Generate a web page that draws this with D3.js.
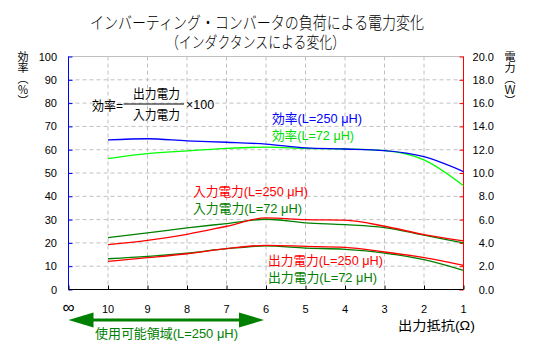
<!DOCTYPE html>
<html><head><meta charset="utf-8">
<script src="https://cdn.jsdelivr.net/npm/d3@7"></script>
<style>body{margin:0;background:#fff;} svg{display:block;} text{font-family:"Liberation Sans","Noto Sans CJK JP",sans-serif;}</style>
</head><body>
<svg id="c" width="537" height="346"></svg>
<script>
const xLabels = ["∞","10","9","8","7","6","5","4","3","2","1"];
const effTicks = [0,10,20,30,40,50,60,70,80,90,100];
const powTicks = ["0.0","2.0","4.0","6.0","8.0","10.0","12.0","14.0","16.0","18.0","20.0"];
// values at x index 1..10 (10Ω .. 1Ω)
const eff250 = [64.2,64.7,63.8,63.2,62.4,60.8,60.3,59.6,57.0,50.6];
const eff72  = [56.2,58.3,59.5,60.6,61.1,60.6,60.3,59.6,55.6,44.5];
const pin250 = [3.85,4.22,4.74,5.43,6.15,6.00,5.95,5.43,4.71,4.17];
const pin72  = [4.45,4.86,5.29,5.66,6.03,5.72,5.57,5.32,4.66,4.00];
const pout250= [2.41,2.73,3.07,3.50,3.79,3.71,3.62,3.22,2.73,2.07];
const pout72 = [2.64,2.84,3.13,3.50,3.74,3.56,3.45,3.13,2.56,1.64];

const svg = d3.select("#c");
const L=68.5, R=463.5, T=56.5, B=289.5;
const x = d3.scaleLinear().domain([0,10]).range([L,R]);
const yE = d3.scaleLinear().domain([0,100]).range([B,T]);
const yP = d3.scaleLinear().domain([0,20]).range([B,T]);

// grid
const g = svg.append("g");
effTicks.slice(1,-1).forEach(v=>{
  g.append("line").attr("x1",L).attr("x2",R).attr("y1",yE(v)).attr("y2",yE(v))
   .attr("stroke","#c0c0c0").attr("stroke-dasharray","4,3");
});
g.append("line").attr("x1",L).attr("x2",R).attr("y1",T).attr("y2",T).attr("stroke","#c0c0c0");
d3.range(1,10).forEach(i=>{
  g.append("line").attr("x1",x(i)).attr("x2",x(i)).attr("y1",T).attr("y2",B-4)
   .attr("stroke","#c0c0c0").attr("stroke-dasharray","4,3");
});

// axes
const axL = svg.append("g").attr("transform",`translate(${L},0)`)
  .call(d3.axisRight(yE).tickValues(effTicks).tickSize(4).tickFormat(""));
axL.select(".domain").attr("stroke","#0000ff").attr("d",`M0,${T}V${B}`);
axL.selectAll(".tick line").attr("stroke","#0000ff");
const axR = svg.append("g").attr("transform",`translate(${R},0)`)
  .call(d3.axisLeft(yP).tickValues(d3.range(0,21,2)).tickSize(4).tickFormat(""));
axR.select(".domain").attr("stroke","#ff0000").attr("d",`M0,${T}V${B}`);
axR.selectAll(".tick line").attr("stroke","#ff0000");
const axB = svg.append("g").attr("transform",`translate(0,${B})`)
  .call(d3.axisTop(x).tickValues(d3.range(0,11)).tickSize(4).tickFormat(""));
axB.select(".domain").attr("stroke","#000").attr("d",`M${L},0H${R}`);
axB.selectAll(".tick line").attr("stroke","#000");

// tick labels
effTicks.forEach(v=>{
  svg.append("text").attr("x",57).attr("y",yE(v)+4).attr("text-anchor","end")
    .attr("font-size",11).text(v);
});
powTicks.forEach((t,i)=>{
  svg.append("text").attr("x",494).attr("y",yP(i*2)+4).attr("text-anchor","end")
    .attr("font-size",11).text(t);
});
xLabels.forEach((t,i)=>{
  svg.append("text").attr("x",x(i)).attr("y",313).attr("text-anchor","middle")
    .attr("font-size",i===0?17:11).attr("font-weight",i===0?300:null).text(t);
});

// lines
const line = (yS)=>d3.line().x((d,i)=>x(i+1)).y(d=>yS(d)).curve(d3.curveMonotoneX);
const series = [
  [pout72,yP,"#008000"],[pout250,yP,"#ff0000"],
  [pin72,yP,"#008000"],[pin250,yP,"#ff0000"],
  [eff72,yE,"#00ff00"],[eff250,yE,"#0000ff"]
];
series.forEach(([d,s,c])=>{
  svg.append("path").datum(d).attr("d",line(s)).attr("fill","none")
    .attr("stroke",c).attr("stroke-width",1.3);
});

// annotations
function txt(t,x0,y0,c,fs,w,anchor){
  const e = svg.append("text").attr("x",x0).attr("y",y0).attr("fill",c).attr("font-size",fs).text(t);
  if(w) e.attr("textLength",w).attr("lengthAdjust","spacingAndGlyphs");
  if(anchor) e.attr("text-anchor",anchor);
  return e;
}
txt("インバーティング・コンバータの負荷による電力変化",90,29,"#000",17,334).attr("font-weight",300);
txt("（インダクタンスによる変化）",166,47.5,"#000",16,179).attr("font-weight",300);

txt("効率(L=250 μH)",272,122.5,"#0000ff",13,90);
txt("効率(L=72 μH)",272,140,"#00dd00",13,82);
txt("入力電力(L=250 μH)",193,196,"#ff0000",13,115);
txt("入力電力(L=72 μH)",193,213,"#008000",13,109);
txt("出力電力(L=250 μH)",268,264.5,"#ff0000",13,115);
txt("出力電力(L=72 μH)",268,281.5,"#008000",13,109);

// formula
txt("効率=",92,109.5,"#000",13,31);
txt("出力電力",133,98,"#000",13,47);
txt("入力電力",133,119,"#000",13,47);
svg.append("line").attr("x1",123.5).attr("x2",184).attr("y1",104).attr("y2",104).attr("stroke","#000");
txt("×100",186,109,"#000",12.5);

// vertical axis titles
function vTitle(cx, t){
  svg.append("text").attr("x",cx).attr("y",51)
    .style("writing-mode","vertical-rl").style("text-orientation","upright")
    .style("font-family","'Noto Sans CJK JP'")
    .attr("font-size",11).text(t);
}
vTitle(23,"効率（％）");
vTitle(510,"電力（Ｗ）");
txt("出力抵抗(Ω)",398,330,"#000",13,77);

// arrow
const ax0 = x(0), ax1 = x(5)-2, ay = 320;
svg.append("line").attr("x1",ax0+20).attr("x2",ax1-20).attr("y1",ay).attr("y2",ay)
  .attr("stroke","#008000").attr("stroke-width",3);
svg.append("path").attr("d",`M${ax0},${ay}L${ax0+25},${ay-7.5}L${ax0+25},${ay+7.5}Z`).attr("fill","#008000");
svg.append("path").attr("d",`M${ax1},${ay}L${ax1-25},${ay-7.5}L${ax1-25},${ay+7.5}Z`).attr("fill","#008000");
txt("使用可能領域(L=250 μH)",95,338,"#008000",13,143);
</script>
</body></html>
